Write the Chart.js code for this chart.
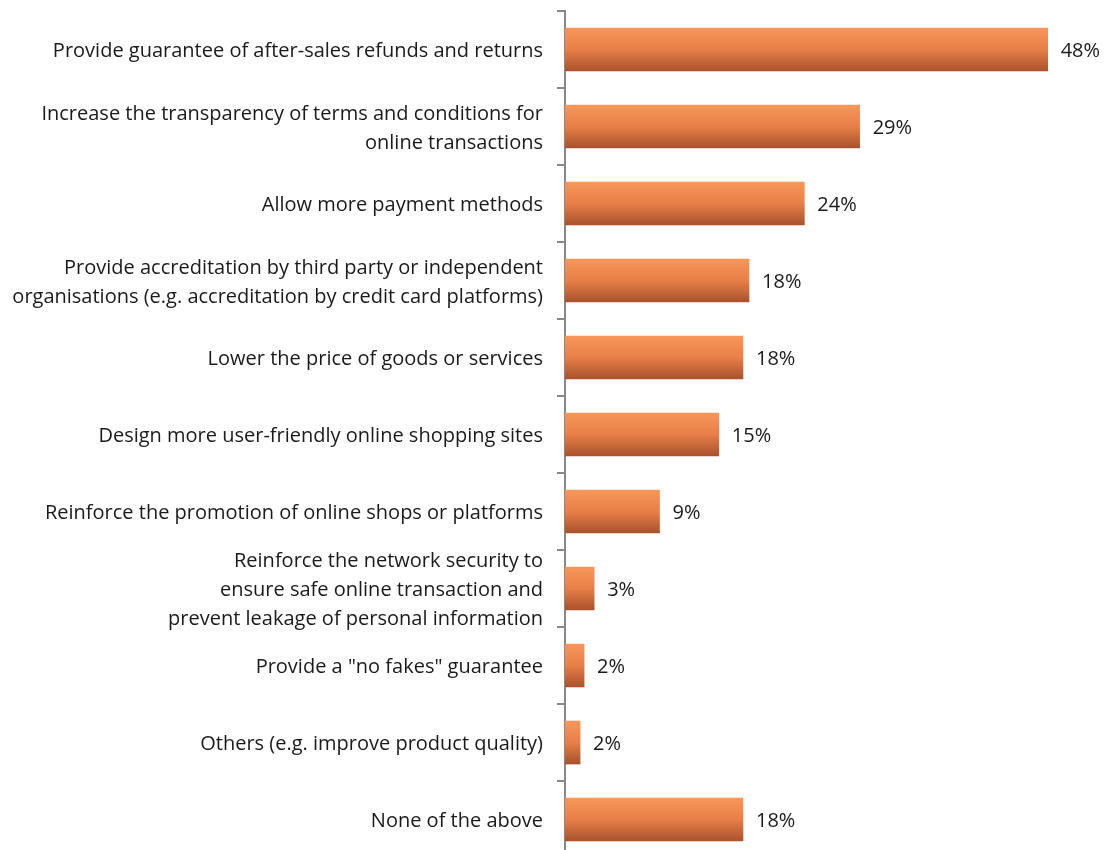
<!DOCTYPE html>
<html>
<head>
<meta charset="utf-8">
<script src="https://cdn.jsdelivr.net/npm/chart.js@4/dist/chart.umd.min.js"></script>
<style>
html, body { margin: 0; padding: 0; overflow: hidden; background: #fff; }
#wrap { width: 1108px; height: 858px; position: relative; }
</style>
</head>
<body>
<div id="wrap"><canvas id="c"></canvas></div>
<script>
const categories = [
  "Provide guarantee of after-sales refunds and returns",
  ["Increase the transparency of terms and conditions for", "online transactions"],
  "Allow more payment methods",
  ["Provide accreditation by third party or independent", "organisations (e.g. accreditation by credit card platforms)"],
  "Lower the price of goods or services",
  "Design more user-friendly online shopping sites",
  "Reinforce the promotion of online shops or platforms",
  ["Reinforce the network security to", "ensure safe online transaction and", "prevent leakage of personal information"],
  "Provide a \"no fakes\" guarantee",
  "Others (e.g. improve product quality)",
  "None of the above"
];
const values = [48.0, 29.3, 23.8, 18.3, 17.7, 15.3, 9.4, 2.9, 1.9, 1.5, 17.7];
const valueLabels = ["48%", "29%", "24%", "18%", "18%", "15%", "9%", "3%", "2%", "2%", "18%"];

const FONT = "'Open Sans', 'Noto Sans', sans-serif";
const BAR_T = 43;

function barFill(ctx) {
  const chart = ctx.chart;
  const y = chart.scales && chart.scales.y;
  if (!y || ctx.dataIndex === undefined) return '#E8804A';
  const c = y.getPixelForValue(ctx.dataIndex);
  if (!isFinite(c)) return '#E8804A';
  const g = chart.ctx.createLinearGradient(0, c - BAR_T / 2, 0, c + BAR_T / 2);
  g.addColorStop(0, '#F8975A');
  g.addColorStop(0.5, '#E87F48');
  g.addColorStop(1, '#A8522C');
  return g;
}

const valueLabelPlugin = {
  id: 'valueLabels',
  afterDatasetsDraw(chart) {
    const ctx = chart.ctx;
    const meta = chart.getDatasetMeta(0);
    ctx.save();
    ctx.font = "20px " + FONT;
    ctx.fillStyle = '#1a1a1a';
    ctx.textAlign = 'left';
    ctx.textBaseline = 'middle';
    meta.data.forEach((bar, i) => {
      ctx.fillText(valueLabels[i], bar.x + 13, bar.y + 2);
    });
    ctx.restore();
  }
};

new Chart(document.getElementById('c'), {
  type: 'bar',
  data: {
    labels: categories,
    datasets: [{
      data: values,
      backgroundColor: barFill,
      borderWidth: 0,
      barThickness: BAR_T
    }]
  },
  options: {
    indexAxis: 'y',
    responsive: true,
    maintainAspectRatio: false,
    animation: false,
    layout: { padding: { top: 11, right: 0, bottom: 0, left: 0 } },
    plugins: { legend: { display: false }, tooltip: { enabled: false } },
    scales: {
      x: {
        display: false,
        min: 0,
        max: 54
      },
      y: {
        afterFit(scale) { scale.width = 565; scale.paddingTop = 0; scale.paddingBottom = 0; },
        grid: {
          offset: true,
          drawOnChartArea: false,
          drawTicks: true,
          tickLength: 8,
          tickColor: '#888888',
          lineWidth: 2
        },
        border: { display: true, color: '#888888', width: 2 },
        ticks: {
          padding: 14,
          labelOffset: 2,
          color: '#1a1a1a',
          font: { family: FONT, size: 20, lineHeight: 1.45 },
          autoSkip: false
        }
      }
    }
  },
  plugins: [valueLabelPlugin]
});
</script>
</body>
</html>
